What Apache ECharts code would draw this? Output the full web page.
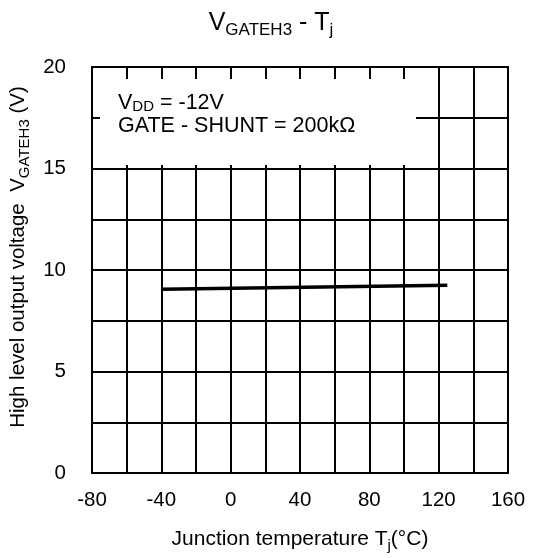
<!DOCTYPE html>
<html>
<head>
<meta charset="utf-8">
<script src="https://cdn.jsdelivr.net/npm/echarts@6/dist/echarts.min.js"></script>
<style>
  html, body { margin: 0; padding: 0; background: #fff; }
  #chart { width: 542px; height: 558px; }
</style>
</head>
<body>
<div id="chart"></div>
<script>
// data
const tempC = [-40, 125];
const vGateH3 = [9.05, 9.25];
const xTicks = [-80, -40, 0, 40, 80, 120, 160];
const yTicks = [0, 5, 10, 15, 20];

const FONT = '"Liberation Sans", Arial, sans-serif';

const chart = echarts.init(document.getElementById('chart'));

const option = {
  backgroundColor: '#fff',
  animation: false,
  textStyle: { fontFamily: FONT, color: '#000' },
  title: {
    left: 'center',
    top: 2,
    text: '{v|V}{s|GATEH3}{v| - T}{s|j}',
    textStyle: {
      fontWeight: 'normal',
      rich: {
        v: { fontSize: 25, lineHeight: 32, color: '#000', fontWeight: 'normal', fontFamily: FONT },
        s: { fontSize: 17, lineHeight: 17, verticalAlign: 'bottom', color: '#000', fontWeight: 'normal', fontFamily: FONT }
      }
    }
  },
  grid: {
    left: 92, right: 34, top: 67, bottom: 85,
    show: true, borderColor: '#000', borderWidth: 2, backgroundColor: 'transparent'
  },
  xAxis: {
    type: 'value',
    min: xTicks[0], max: xTicks[xTicks.length - 1], interval: 40,
    axisLine: { show: true, onZero: false, lineStyle: { color: '#000', width: 2 } },
    axisTick: { show: false },
    axisLabel: { fontSize: 20.5, color: '#000', margin: 17, fontFamily: FONT },
    splitLine: { show: true, lineStyle: { color: '#000', width: 2 } },
    minorTick: { show: false, splitNumber: 2 },
    minorSplitLine: { show: true, lineStyle: { color: '#000', width: 2 } },
    name: '{m|Junction temperature T}{s|j}{m|(°C)}',
    nameLocation: 'middle',
    nameGap: 53,
    nameTextStyle: {
      rich: {
        m: { fontSize: 21, lineHeight: 27, color: '#000', fontFamily: FONT },
        s: { fontSize: 15, lineHeight: 15, verticalAlign: 'bottom', color: '#000', fontFamily: FONT }
      }
    }
  },
  yAxis: {
    type: 'value',
    min: yTicks[0], max: yTicks[yTicks.length - 1], interval: 5,
    axisLine: { show: true, lineStyle: { color: '#000', width: 2 } },
    axisTick: { show: false },
    axisLabel: { fontSize: 20.5, color: '#000', margin: 26, fontFamily: FONT },
    splitLine: { show: true, lineStyle: { color: '#000', width: 2 } },
    minorTick: { show: false, splitNumber: 2 },
    minorSplitLine: { show: true, lineStyle: { color: '#000', width: 2 } },
    name: '{m|High level output voltage  V}{s|GATEH3}{m| (V)}',
    nameLocation: 'middle',
    nameGap: 53,
    nameTextStyle: {
      padding: [0, 0, 0, 26],
      rich: {
        m: { fontSize: 20.5, lineHeight: 27, color: '#000', fontFamily: FONT },
        s: { fontSize: 15, lineHeight: 15, verticalAlign: 'bottom', color: '#000', fontFamily: FONT }
      }
    }
  },
  graphic: [
    {
      type: 'rect',
      left: 100, top: 79, z: 10,
      shape: { width: 316, height: 86 },
      style: { fill: '#fff' }
    },
    {
      type: 'text',
      left: 118, top: 92, z: 11,
      style: {
        text: '{v|V}{s|DD}{v| = -12V}\n{v|GATE - SHUNT = 200kΩ}',
        rich: {
          v: { fontSize: 21.5, lineHeight: 23, fill: '#000', fontFamily: FONT },
          s: { fontSize: 15, lineHeight: 15, verticalAlign: 'bottom', fill: '#000', fontFamily: FONT }
        }
      }
    }
  ],
  series: [
    {
      type: 'line',
      data: tempC.map((t, i) => [t, vGateH3[i]]),
      showSymbol: false,
      lineStyle: { color: '#000', width: 3.5 },
      z: 5
    }
  ]
};

chart.setOption(option);
</script>
</body>
</html>
